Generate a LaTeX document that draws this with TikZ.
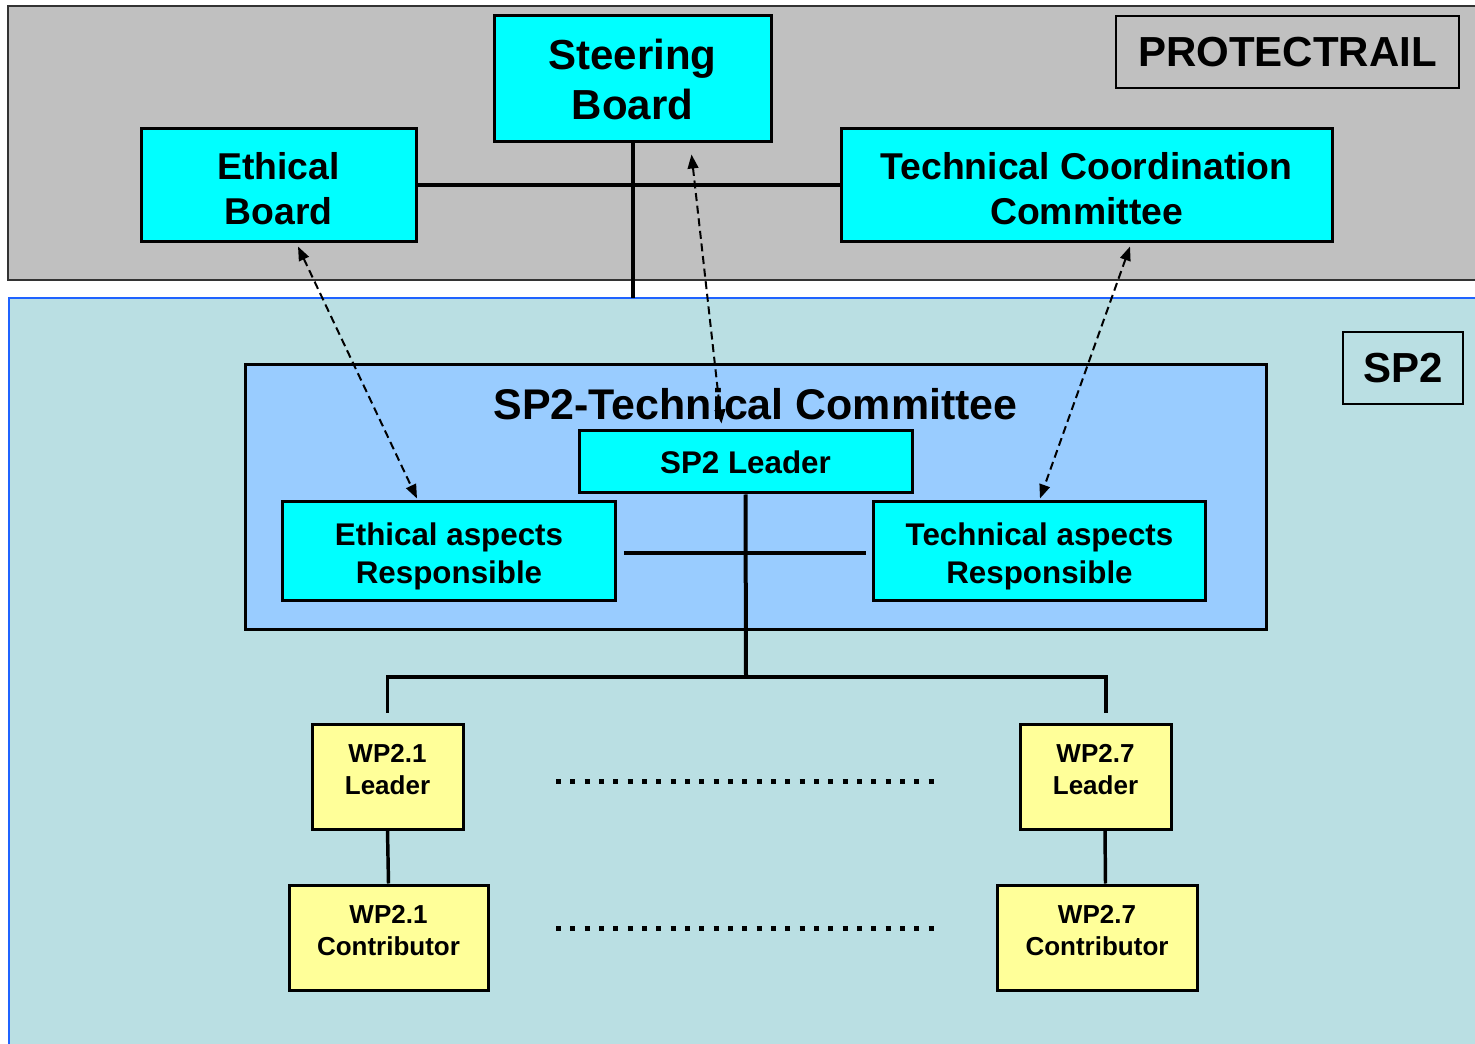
\documentclass[tikz,border=0pt]{standalone}
\usepackage{fontspec}
\setmainfont{Liberation Sans}
\usepackage{tikz}
\usetikzlibrary{arrows.meta,calc}

\definecolor{topgray}{HTML}{C0C0C0}
\definecolor{sptint}{HTML}{BADFE3}
\definecolor{spedge}{HTML}{1F63FF}
\definecolor{tcblue}{HTML}{99CCFF}
\definecolor{boxcyan}{HTML}{00FFFF}
\definecolor{wpyellow}{HTML}{FFFF99}

\begin{document}
\begin{tikzpicture}[x=0.75pt,y=0.75pt,yscale=-1,xscale=1,
        board/.style={draw, line width=2.25pt, fill=boxcyan, inner sep=0pt, align=center},
        wpbox/.style={draw, line width=2.25pt, fill=wpyellow, inner sep=0pt, align=center,
            font=\bfseries\fontsize{19.5}{24}\selectfont},
        tagbox/.style={draw, line width=1pt, inner sep=0pt,
            font=\bfseries\fontsize{31.5}{37.5}\selectfont},
        tree/.style={line width=3pt},
        dotrow/.style={line width=3.75pt, dash pattern=on 3.75pt off 7pt},
        link/.style={line width=1.5pt, dash pattern=on 6pt off 3.5pt,
            {Triangle[length=10.5pt,width=8pt]}-{Triangle[length=10.5pt,width=8pt]}}]
        \useasboundingbox (0,0) rectangle (1475,1044);

        % the two levels
        \fill[topgray] (8,6) rectangle (1490,280);
        \draw[line width=1.2pt, draw=black!80] (1490,6) -- (8,6) -- (8,280) -- (1490,280);
        \fill[sptint] (9,298) rectangle (1490,1060);
        \draw[line width=1.5pt, draw=spedge] (9,1060) -- (9,298) -- (1490,298);

        \node (tc) [draw, line width=2.25pt, fill=tcblue, minimum width=765.75pt, minimum height=198.75pt] at (755.5,497.5) {};
        \node (tctitle) [font=\bfseries\fontsize{32.2}{38}\selectfont] at (755.5,404) {SP2-Technical Committee};

        \node (protect) [tagbox, minimum width=257.25pt, minimum height=54pt] at (1287.5,52) {PROTECTRAIL};
        \node (sptag) [tagbox, minimum width=90pt, minimum height=54pt] at (1403,368) {SP2};

        % lines behind the boxes
        \coordinate (sbfoot) at (632.5,298);
        \coordinate (bus) at (746,677);
        \draw[tree] (632.5,142) -- (sbfoot);
        \draw[tree] (418,185.5) -- (841,185.5);

        \node (sb) [board, minimum width=207.75pt, minimum height=94.5pt,
            font=\bfseries\fontsize{31.5}{37.5}\selectfont] at (632.5,79) {Steering\\Board};
        \node (eb) [board, minimum width=206.25pt, minimum height=84.75pt,
            font=\bfseries\fontsize{28}{33.75}\selectfont] at (278.5,185.5) {\mbox{}\\[-9pt]Ethical\\Board};
        \node (tcc) [board, minimum width=368.25pt, minimum height=84.75pt,
            font=\bfseries\fontsize{28}{33.75}\selectfont] at (1086.5,185.5) {\mbox{}\\[-9pt]Technical Coordination\\Committee};

        \node (lead) [board, minimum width=249.75pt, minimum height=46.5pt,
            font=\bfseries\fontsize{23.5}{28.5}\selectfont] at (745.5,462) {SP2 Leader};
        \node (ear) [board, minimum width=249.5pt, minimum height=74.25pt,
            font=\bfseries\fontsize{23.5}{28.5}\selectfont] at (449,551.5) {\mbox{}\\[-4pt]Ethical aspects\\Responsible};
        \node (tar) [board, minimum width=249.5pt, minimum height=74.25pt,
            font=\bfseries\fontsize{23.5}{28.5}\selectfont] at (1039.5,551.5) {\mbox{}\\[-4pt]Technical aspects\\Responsible};

        \node (wl1) [wpbox, minimum width=113.25pt, minimum height=78.75pt] at (387.5,776.5) {WP2.1\\Leader\\[-13pt]\mbox{}};
        \node (wl7) [wpbox, minimum width=113.25pt, minimum height=78.75pt] at (1095.5,776.5) {WP2.7\\Leader\\[-13pt]\mbox{}};
        \node (wc1) [wpbox, minimum width=149.25pt, minimum height=78.75pt] at (388.5,937.5) {WP2.1\\Contributor\\[-13pt]\mbox{}};
        \node (wc7) [wpbox, minimum width=150pt, minimum height=78.75pt] at (1097,937.5) {WP2.7\\Contributor\\[-13pt]\mbox{}};

        % tree inside SP2
        \draw[tree] (lead.south) -- (bus);
        \draw[tree] ($(ear.east)+(7,1.5)$) -- ($(tar.west)+(-6,1.5)$);
        \draw[line width=2.6pt] ($(wl1.north)+(0,-10)$) |- (bus) -| ($(wl7.north)+(10.5,-10)$);
        \draw[line width=2.6pt] (wl1.south) -- (wc1.north);
        \draw[line width=2.6pt] ($(wl7.south)+(9.5,0)$) -- ($(wc7.north)+(8.5,0)$);

        \draw[dotrow] (556,781) -- (936,781);
        \draw[dotrow] (556,928) -- (936,928);

        % links between the levels
        \draw[link] ($(eb.south)+(19.5,3)$) -- ($(ear.north)+(-32,-2)$);
        \draw[link] ($(sb.south)+(59,11)$) -- ($(lead.north)+(-24,-6)$);
        \draw[link] ($(tcc.south)+(43.5,3)$) -- ($(tar.north)+(0.5,-2)$);

    \end{tikzpicture}
\end{document}
